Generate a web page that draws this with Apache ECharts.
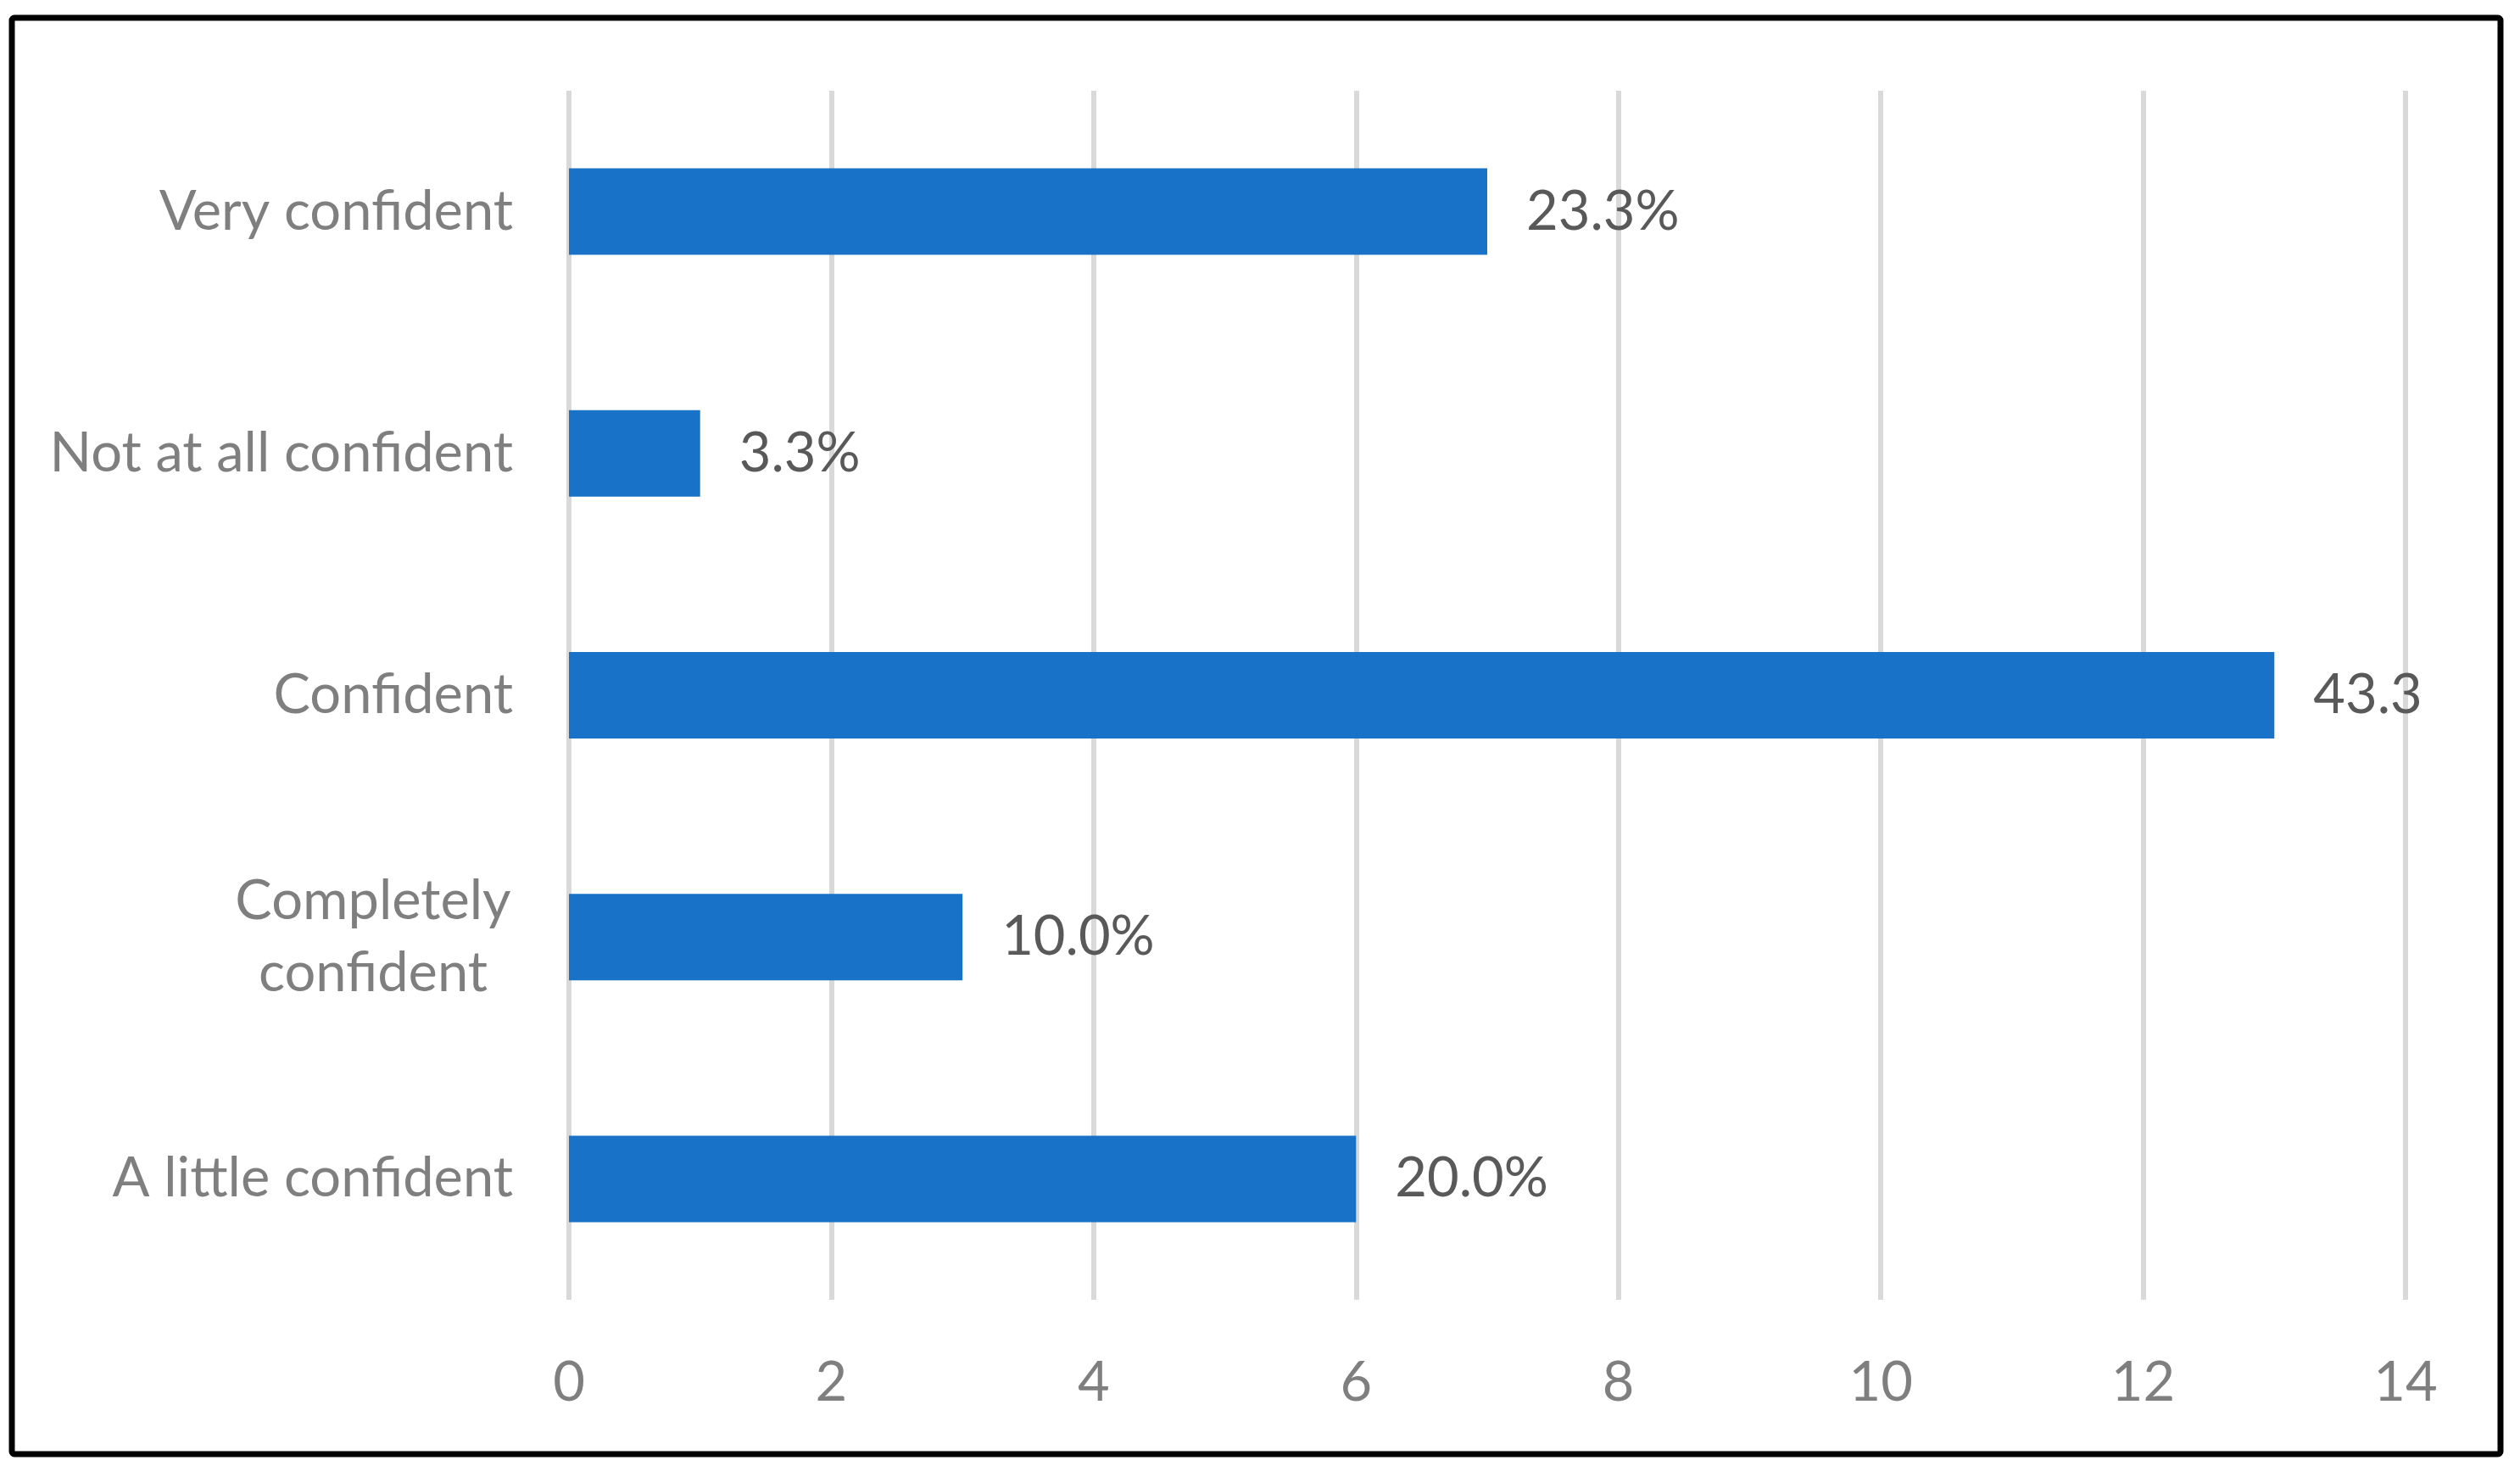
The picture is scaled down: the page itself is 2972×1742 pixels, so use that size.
<!DOCTYPE html>
<html>
<head>
<meta charset="utf-8">
<script src="https://cdn.jsdelivr.net/npm/echarts@6/dist/echarts.min.js"></script>
<style>
html,body{margin:0;padding:0;background:#fff;}
#chart{width:2972px;height:1742px;}
</style>
</head>
<body>
<div id="chart"></div>
<script>
const categories = ['Very confident', 'Not at all confident', 'Confident', 'Completely\nconfident', 'A little confident'];
const counts = [7, 1, 13, 3, 6];
const percentLabels = ['23.3%', '3.3%', '43.3', '10.0%', '20.0%'];
const xTicks = [0, 14, 2];

const FONT = 'Lato';
const chart = echarts.init(document.getElementById('chart'));
chart.setOption({
  backgroundColor: '#ffffff',
  animation: false,
  graphic: [{
    type: 'rect',
    shape: {x: 14, y: 21, width: 2935, height: 1694, r: 3},
    style: {fill: 'none', stroke: '#000000', lineWidth: 7},
    z: 100
  }],
  grid: {left: 671, right: 135, top: 107, bottom: 209, containLabel: false},
  xAxis: {
    type: 'value',
    min: xTicks[0], max: xTicks[1], interval: xTicks[2],
    axisLine: {show: false},
    axisTick: {show: false},
    splitLine: {show: true, lineStyle: {color: '#d9d9d9', width: 6}},
    axisLabel: {color: '#7f7f7f', fontFamily: FONT, fontSize: 65, margin: 66}
  },
  yAxis: {
    type: 'category',
    inverse: true,
    data: categories,
    axisLine: {show: false},
    axisTick: {show: false},
    splitLine: {show: false},
    axisLabel: {
      color: '#7f7f7f', fontFamily: FONT, fontSize: 65, margin: 66, lineHeight: 85,
      formatter: function (v) {
        return v.indexOf('\n') >= 0 ? '{m|' + v.split('\n').join('}\n{m|') + '}' : v;
      },
      rich: {m: {color: '#7f7f7f', fontFamily: FONT, fontSize: 65, lineHeight: 85, width: 330, align: 'center'}}
    }
  },
  series: [{
    type: 'bar',
    data: counts,
    barWidth: 102,
    itemStyle: {color: '#1873c8'},
    label: {
      show: true, position: 'right', distance: 46,
      color: '#595959', fontFamily: FONT, fontSize: 65,
      formatter: function (p) { return percentLabels[p.dataIndex]; }
    }
  }]
});
</script>
</body>
</html>
